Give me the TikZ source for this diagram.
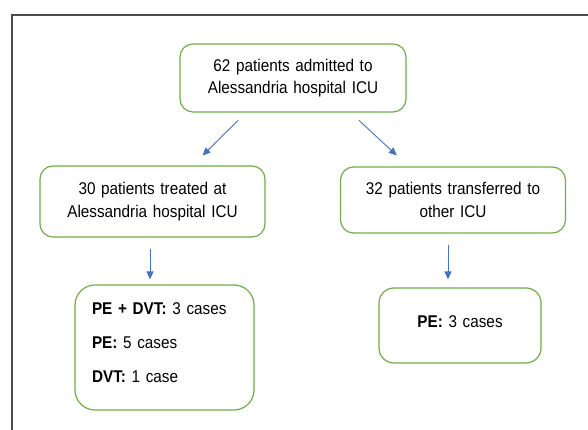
\documentclass[tikz,border=0pt]{standalone}
\usepackage{fontspec}
\setmainfont{Liberation Sans}[FakeStretch=0.9]
\usepackage{tikz}
\usetikzlibrary{arrows.meta}
\usepackage{xcolor}
\definecolor{boxgreen}{HTML}{70AD47}
\definecolor{arrblue}{HTML}{4472C4}

\tikzset{
  stepbox/.style={draw=boxgreen,line width=1.2pt,rounded corners=13pt,inner sep=0pt,
    align=center,font=\fontsize{17}{22.5}\selectfont},
  arr/.style={arrblue,line width=0.9pt,-{Triangle[length=8pt,width=7pt]}}
}

\begin{document}
\begin{tikzpicture}[x=1pt,y=-1pt]
\useasboundingbox (0,0) rectangle (588,430);
\draw[black!70,line width=1.2pt] (12,430) -- (12,15) -- (588,15);
\node[stepbox,text width=226pt,minimum height=68pt] (adm) at (293,78) {62 patients admitted to\\Alessandria hospital ICU};
\node[stepbox,text width=225pt,minimum height=71pt] (treat) at (152.5,201.5) {30 patients treated at\\Alessandria hospital ICU};
\node[stepbox,text width=225pt,minimum height=66pt] (trans) at (453,200) {32 patients transferred to\\other ICU};
\node[stepbox,rounded corners=20pt,align=left,inner xsep=17pt,text width=145pt,minimum height=125pt] (casesl) at (164.5,347.5)
  {\textbf{PE + DVT:} 3 cases\\[11.5pt]\textbf{PE:} 5 cases\\[11.5pt]\textbf{DVT:} 1 case\\[-12pt]\mbox{}};
\node[stepbox,rounded corners=15pt,text width=162pt,minimum height=75pt] (casesr) at (460,325.5) {\textbf{PE:} 3 cases\\[-14pt]\mbox{}};
% connectors
\draw[arr,shorten <=11pt,shorten >=14pt] ([xshift=-47pt]adm.south) -- ([xshift=40pt]treat.north);
\draw[arr,shorten <=11.5pt,shorten >=16pt] ([xshift=57.6pt]adm.south) -- ([xshift=-44.4pt]trans.north);
\draw[arr,shorten <=11pt,shorten >=5pt] ([xshift=-2.5pt]treat.south) -- ([xshift=-2.5pt]treat.south |- casesl.north);
\draw[arr,shorten <=11pt,shorten >=8pt] ([xshift=-5pt]trans.south) -- ([xshift=-5pt]trans.south |- casesr.north);
\end{tikzpicture}
\end{document}
